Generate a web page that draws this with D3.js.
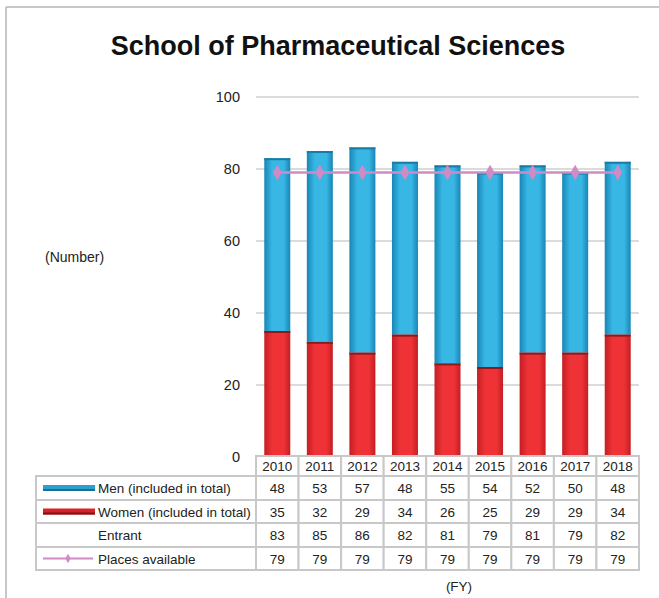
<!DOCTYPE html>
<html>
<head>
<meta charset="utf-8">
<script src="https://d3js.org/d3.v7.min.js"></script>
<style>
  body { margin: 0; background: #fff; }
  text { font-family: "Liberation Sans", Arial, sans-serif; fill: #222; }
</style>
</head>
<body>
<div id="chart"></div>
<script>
// data
var years = ["2010","2011","2012","2013","2014","2015","2016","2017","2018"];
var men = [48, 53, 57, 48, 55, 54, 52, 50, 48];
var women = [35, 32, 29, 34, 26, 25, 29, 29, 34];
var entrant = [83, 85, 86, 82, 81, 79, 81, 79, 82];
var places = [79, 79, 79, 79, 79, 79, 79, 79, 79];
var yTicks = [0, 20, 40, 60, 80, 100];

var W = 659, H = 598;
var plotLeft = 256, plotRight = 639, plotTop = 97, plotBottom = 457;

var svg = d3.select("#chart").append("svg")
    .attr("width", W).attr("height", H);

// gradients for the bars
var defs = svg.append("defs");
function grad(id, dark, light) {
  var g = defs.append("linearGradient").attr("id", id)
    .attr("x1", "0%").attr("x2", "100%").attr("y1", "0%").attr("y2", "0%");
  g.append("stop").attr("offset", "0%").attr("stop-color", dark);
  g.append("stop").attr("offset", "30%").attr("stop-color", light);
  g.append("stop").attr("offset", "75%").attr("stop-color", light);
  g.append("stop").attr("offset", "100%").attr("stop-color", dark);
}
grad("gBlue", "#1786b5", "#38b6e4");
grad("gRed", "#c41e22", "#ee3236");

// frame
svg.append("line").attr("x1", 6).attr("x2", W).attr("y1", 7).attr("y2", 7)
  .attr("stroke", "#b5b5b5").attr("stroke-width", 1.5);
svg.append("line").attr("x1", 6).attr("x2", 6).attr("y1", 7).attr("y2", H)
  .attr("stroke", "#b5b5b5").attr("stroke-width", 1.5);

// title
svg.append("text").attr("x", 338).attr("y", 55)
  .attr("text-anchor", "middle").style("font-size", "27px").style("font-weight", "bold")
  .style("fill", "#111")
  .text("School of Pharmaceutical Sciences");

var x = d3.scaleBand().domain(years).range([plotLeft, plotRight]).padding(0);
var y = d3.scaleLinear().domain([0, 100]).range([plotBottom, plotTop]);

// gridlines
svg.append("g").selectAll("line").data(yTicks.slice(1)).enter().append("line")
  .attr("x1", plotLeft).attr("x2", plotRight)
  .attr("y1", function(d) { return y(d); }).attr("y2", function(d) { return y(d); })
  .attr("stroke", "#b8b8b8").attr("stroke-width", 1.2);

// tick labels
svg.append("g").selectAll("text").data(yTicks).enter().append("text")
  .attr("x", 240).attr("y", function(d) { return y(d) + 5; })
  .attr("text-anchor", "end").style("font-size", "14.5px")
  .text(function(d) { return d; });

svg.append("text").attr("x", 45).attr("y", 262).style("font-size", "14px").text("(Number)");

// bars
var bw = 26;
var bars = svg.append("g");
years.forEach(function(yr, i) {
  var cx = x(yr) + x.bandwidth() / 2;
  bars.append("rect").attr("x", cx - bw / 2).attr("width", bw)
    .attr("y", y(women[i])).attr("height", y(0) - y(women[i]))
    .attr("fill", "url(#gRed)");
  bars.append("rect").attr("x", cx - bw / 2).attr("width", bw)
    .attr("y", y(women[i] + men[i])).attr("height", y(women[i]) - y(women[i] + men[i]))
    .attr("fill", "url(#gBlue)");
  // top caps
  bars.append("rect").attr("x", cx - bw / 2).attr("width", bw)
    .attr("y", y(women[i] + men[i])).attr("height", 2).attr("fill", "#1a7ca6");
  bars.append("rect").attr("x", cx - bw / 2).attr("width", bw)
    .attr("y", y(women[i])).attr("height", 2).attr("fill", "#8a1a1c");
});

// places line
var line = d3.line()
  .x(function(d, i) { return x(years[i]) + x.bandwidth() / 2; })
  .y(function(d) { return y(d); });
svg.append("path").datum(places).attr("d", line)
  .attr("fill", "none").attr("stroke", "#d08ac6").attr("stroke-width", 2.5);
svg.append("g").selectAll("path").data(places).enter().append("path")
  .attr("d", d3.symbol().type(d3.symbolDiamond).size(70))
  .attr("transform", function(d, i) {
    return "translate(" + (x(years[i]) + x.bandwidth() / 2) + "," + y(d) + ")";
  })
  .attr("fill", "#d08ac6");

// data table
var tableLeft = 36;
var rowEdges = [456, 476, 500, 523, 547, 570];
var tbl = svg.append("g");
var gridColor = "#c8c8c8";

// header row cells (years only)
years.forEach(function(yr, i) {
  tbl.append("rect").attr("x", x(yr)).attr("y", rowEdges[0])
    .attr("width", x.bandwidth()).attr("height", rowEdges[1] - rowEdges[0])
    .attr("fill", "#fff").attr("stroke", gridColor).attr("stroke-width", 2);
  tbl.append("text").attr("x", x(yr) + x.bandwidth() / 2).attr("y", rowEdges[0] + 15)
    .attr("text-anchor", "middle").style("font-size", "13.5px").text(yr);
});

var rows = [
  { label: "Men (included in total)", values: men, key: "men" },
  { label: "Women (included in total)", values: women, key: "women" },
  { label: "Entrant", values: entrant, key: "entrant" },
  { label: "Places available", values: places, key: "places" }
];

rows.forEach(function(r, ri) {
  var top = rowEdges[ri + 1], bot = rowEdges[ri + 2];
  var mid = (top + bot) / 2;
  tbl.append("rect").attr("x", tableLeft).attr("y", top)
    .attr("width", plotLeft - tableLeft).attr("height", bot - top)
    .attr("fill", "#fff").attr("stroke", gridColor).attr("stroke-width", 2);
  years.forEach(function(yr, i) {
    tbl.append("rect").attr("x", x(yr)).attr("y", top)
      .attr("width", x.bandwidth()).attr("height", bot - top)
      .attr("fill", "#fff").attr("stroke", gridColor).attr("stroke-width", 2);
    tbl.append("text").attr("x", x(yr) + x.bandwidth() / 2).attr("y", mid + 5)
      .attr("text-anchor", "middle").style("font-size", "13.5px").text(r.values[i]);
  });
  tbl.append("text").attr("x", 98).attr("y", mid + 5)
    .style("font-size", "13.5px").text(r.label);
  // legend keys
  if (r.key === "men" || r.key === "women") {
    tbl.append("rect").attr("x", 43).attr("y", mid - 3).attr("width", 52).attr("height", 6)
      .attr("fill", r.key === "men" ? "#2a9fd0" : "#d42428");
    tbl.append("rect").attr("x", 43).attr("y", mid + 1).attr("width", 52).attr("height", 2)
      .attr("fill", r.key === "men" ? "#1a6f96" : "#7a1416");
  } else if (r.key === "places") {
    tbl.append("line").attr("x1", 43).attr("x2", 93).attr("y1", mid).attr("y2", mid)
      .attr("stroke", "#d08ac6").attr("stroke-width", 2);
    tbl.append("path").attr("d", d3.symbol().type(d3.symbolDiamond).size(25))
      .attr("transform", "translate(68," + mid + ")").attr("fill", "#d08ac6");
  }
});

svg.append("text").attr("x", 459).attr("y", 591)
  .attr("text-anchor", "middle").style("font-size", "13.5px").text("(FY)");
</script>
</body>
</html>
